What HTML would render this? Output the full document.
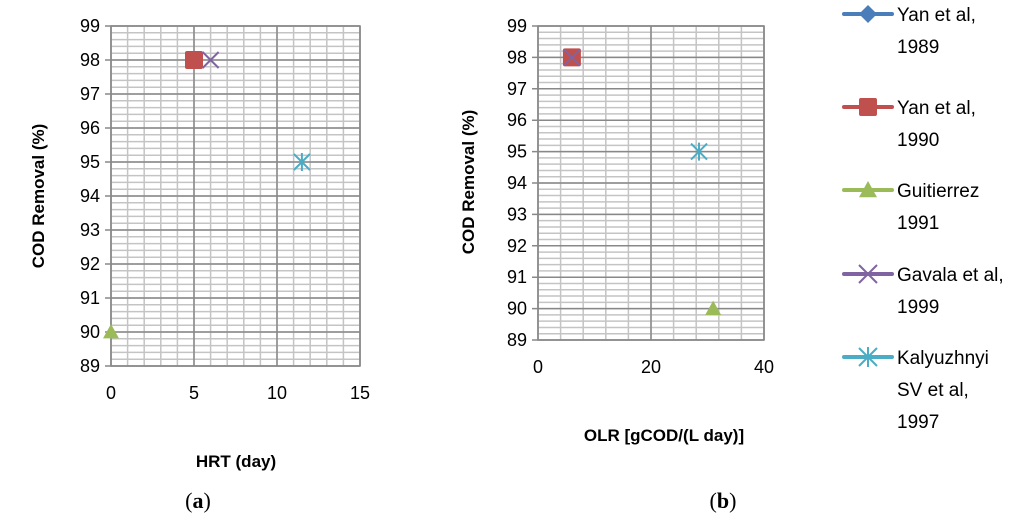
<!DOCTYPE html>
<html><head><meta charset="utf-8"><style>
body{margin:0;background:#fff;width:1024px;height:525px;overflow:hidden;font-family:"Liberation Sans",sans-serif}
</style></head><body>
<svg id="s" width="1024" height="525" xmlns="http://www.w3.org/2000/svg"></svg>
<script>
const seriesNames=["Yan et al, 1989","Yan et al, 1990","Guitierrez 1991","Gavala et al, 1999","Kalyuzhnyi SV et al, 1997"];
const seriesColors=["#4a7ebb","#c0504d","#9bbb59","#8064a2","#4bacc6"];
const hrtX=[5,5,0,6,11.5];
const hrtY=[98,98,90,98,95];
const olrX=[6,6,31,6,28.5];
const olrY=[98,98,90,98,95];
const yTicks=[89,90,91,92,93,94,95,96,97,98,99];
const xTicksA=[0,5,10,15];
const xTicksB=[0,20,40];
const legendLines=[["Yan et al,","1989"],["Yan et al,","1990"],["Guitierrez","1991"],["Gavala et al,","1999"],["Kalyuzhnyi","SV et al,","1997"]];
const NS="http://www.w3.org/2000/svg";
const svg=document.getElementById('s');
function mk(tag,at,parent){const e=document.createElementNS(NS,tag);for(const k in at)e.setAttribute(k,at[k]);(parent||svg).appendChild(e);return e;}
function txt(x,y,s,at,parent){const e=mk('text',Object.assign({x:x,y:y,'font-family':'Liberation Sans, sans-serif'},at),parent);e.textContent=s;return e;}
function marker(g,i,x,y,sz){
  const c=seriesColors[i];
  if(i===0){mk('polygon',{points:`${x},${y-sz} ${x+sz},${y} ${x},${y+sz} ${x-sz},${y}`,fill:c},g);}
  else if(i===1){mk('rect',{x:x-sz,y:y-sz,width:2*sz,height:2*sz,rx:2,fill:c},g);}
  else if(i===2){mk('polygon',{points:`${x},${y-sz} ${x+sz},${y+sz*0.8} ${x-sz},${y+sz*0.8}`,fill:c},g);}
  else if(i===3){mk('path',{d:`M${x-sz} ${y-sz}L${x+sz} ${y+sz}M${x-sz} ${y+sz}L${x+sz} ${y-sz}`,stroke:c,'stroke-width':2},g);}
  else {mk('path',{d:`M${x-sz} ${y-sz}L${x+sz} ${y+sz}M${x-sz} ${y+sz}L${x+sz} ${y-sz}M${x} ${y-sz-1}L${x} ${y+sz+1}`,stroke:c,'stroke-width':2},g);}
}
function chart(cfg){
  const g=mk('g',{});
  
  
  const {L,R,T,B,xmin,xmax,ymin,ymax}=cfg;
  const sx=v=>L+(v-xmin)/(xmax-xmin)*(R-L);
  const sy=v=>B-(v-ymin)/(ymax-ymin)*(B-T);
  for(let v=ymin;v<=ymax+1e-9;v+=0.2){mk('line',{x1:L,x2:R,y1:sy(v),y2:sy(v),stroke:'#c4c4c4','stroke-width':1.5},g);}
  for(let v=xmin;v<=xmax+1e-9;v+=cfg.xminor){mk('line',{x1:sx(v),x2:sx(v),y1:T,y2:B,stroke:'#c4c4c4','stroke-width':1.5},g);}
  yTicks.forEach(v=>{mk('line',{x1:L-6,x2:R,y1:sy(v),y2:sy(v),stroke:'#888','stroke-width':1.5},g);
    const t=txt(L-11,sy(v)+6,String(v),{'font-size':18,'text-anchor':'end',fill:'#000'},g);
    });
  cfg.xt.forEach(v=>{mk('line',{x1:sx(v),x2:sx(v),y1:T,y2:B,stroke:'#888','stroke-width':1.5},g);
    const t=txt(sx(v),B+33,String(v),{'font-size':18,'text-anchor':'middle',fill:'#000'},g);
    });
  mk('rect',{x:L,y:T,width:R-L,height:B-T,fill:'none',stroke:'#888','stroke-width':1.5},g);
  [0,1,2,3,4].forEach(i=>{
    const m=mk('g',{},g);
    
    
    marker(m,i,sx(cfg.xs[i]),sy(cfg.ys[i]),i===1?9:8);
  });
  const xt=txt(cfg.xtx,cfg.xty,cfg.xtitle,{'font-size':17,'font-weight':'bold','text-anchor':'middle'},g);
  
  const yt=txt(0,0,cfg.ytitle,{'font-size':17,'font-weight':'bold','text-anchor':'middle',transform:`translate(${cfg.ytx},${cfg.yty}) rotate(-90)`},g);
  
  const cap=txt(cfg.capx,508,'',{'font-size':22,'font-family':'Liberation Serif, serif','text-anchor':'middle'},g);
  cap.innerHTML='(<tspan font-weight="bold">'+cfg.cap+'</tspan>)';
  
}
chart({name:'chart-hrt',L:111,R:360,T:26,B:366,xmin:0,xmax:15,ymin:89,ymax:99,xminor:1,xt:xTicksA,xs:hrtX,ys:hrtY,
  xtitle:'HRT (day)',xtx:236,xty:467,ytitle:'COD Removal  (%)',ytx:44,yty:196,cap:'a',capx:198});
chart({name:'chart-olr',L:538,R:764,T:26,B:340,xmin:0,xmax:40,ymin:89,ymax:99,xminor:4,xt:xTicksB,xs:olrX,ys:olrY,
  xtitle:'OLR [gCOD/(L day)]',xtx:664,xty:441,ytitle:'COD Removal (%)',ytx:474,yty:182,cap:'b',capx:723});
const legY=[14,107,190,274,357];
const lg=mk('g',{});


legendLines.forEach((lines,i)=>{
  const e=mk('g',{},lg);
  
  
  mk('line',{x1:844,x2:892,y1:legY[i],y2:legY[i],stroke:seriesColors[i],'stroke-width':4,'stroke-linecap':'round'},e);
  marker(e,i,868,legY[i],9);
  lines.forEach((s,j)=>txt(897,legY[i]+7+j*32,s,{'font-size':19,fill:'#000'},e));
});
</script>
</body></html>
